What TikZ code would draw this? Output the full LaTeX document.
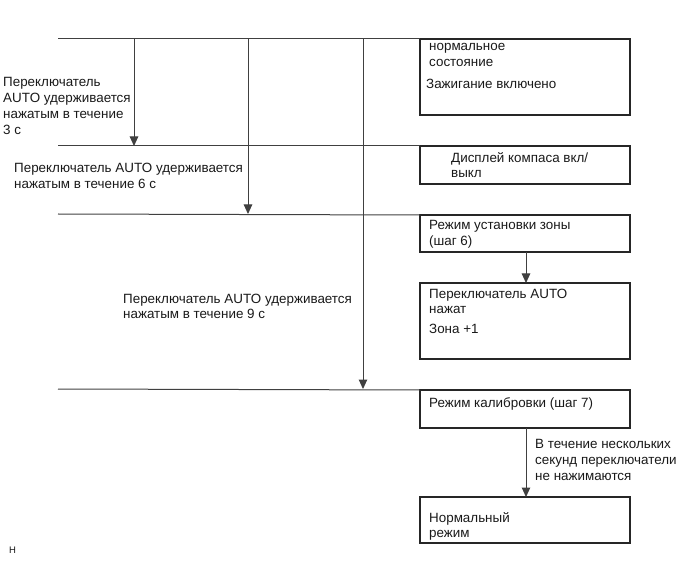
\documentclass[tikz,border=0pt]{standalone}
\usepackage{fontspec}
\setmainfont{Liberation Sans}
\usetikzlibrary{arrows.meta}
\begin{document}
\begin{tikzpicture}[x=1pt,y=-1pt,
  box/.style={draw=black!85,line width=1.2pt,anchor=north west,minimum width=210pt,inner sep=0pt,outer sep=0pt},
  txt/.style={anchor=north west,inner sep=0pt,align=left,text=black!90,font=\fontsize{13.4}{15.8}\selectfont},
  hline/.style={draw=black!75,line width=1pt},
  varrow/.style={draw=black!75,line width=1pt,-{Triangle[length=9.5pt,width=8.5pt]}}]
\useasboundingbox (0,0) rectangle (691,564);
% boxes
\node[box,minimum height=76pt] (b1) at (420,39) {};
\node[box,minimum height=38pt] (b2) at (420,146) {};
\node[box,minimum height=37pt] (b3) at (420,215) {};
\node[box,minimum height=76pt] (b4) at (420,283) {};
\node[box,minimum height=38pt] (b5) at (420,390) {};
\node[box,minimum height=46pt] (b6) at (420,497) {};
% horizontal lines
\coordinate (l1) at (58,39);
\coordinate (l2) at (58,146);
\coordinate (l3) at (58,214);
\coordinate (l4) at (58,389);
\draw[hline] (l1) -- (b1.north west);
\draw[hline] (l2) -- (b2.north west);
\draw[hline] (l3) -- (b3.north west);
\draw[hline] (l4) -- (b5.north west);
% vertical arrows
\coordinate (s1) at (134,39); \coordinate (e1) at (134,146);
\coordinate (s2) at (248,39); \coordinate (e2) at (248,214);
\coordinate (s3) at (363,39); \coordinate (e3) at (363,389);
\draw[varrow] (s1) -- (e1);
\draw[varrow] (s2) -- (e2);
\draw[varrow] (s3) -- (e3);
\draw[varrow] (b3.south -| 526,0) -- (b4.north -| 526,0);
\draw[varrow] (b5.south -| 526,0) -- (b6.north -| 526,0);
% left texts
\node[txt] (t1) at (3,77.5) {Переключатель\\AUTO удерживается\\нажатым в течение\\3 с};
\node[txt] (t2) at (14,163) {Переключатель AUTO удерживается\\нажатым в течение 6 с};
\node[txt] (t3) at (123,293.5) {Переключатель AUTO удерживается\\нажатым в течение 9 с};
% box texts
\node[txt] (x1) at (429,43.5) {нормальное\\состояние};
\node[txt] (x1b) at (426,78.5) {Зажигание включено};
\node[txt] (x2) at (451,152) {Дисплей компаса вкл/\\выкл};
\node[txt] (x3) at (429,220) {Режим установки зоны\\(шаг 6)};
\node[txt] (x4) at (429,288.5) {Переключатель AUTO\\нажат};
\node[txt] (x4b) at (429,323.5) {Зона +1};
\node[txt] (x5) at (429,397.5) {Режим калибровки (шаг 7)};
\node[txt] (lab) at (535,439.5) {В течение нескольких\\секунд переключатели\\не нажимаются};
\node[txt] (x6) at (429,512) {Нормальный\\режим};
\node[txt,font=\fontsize{9.5}{10}\selectfont] (code) at (9,547) {H};
\end{tikzpicture}
\end{document}
